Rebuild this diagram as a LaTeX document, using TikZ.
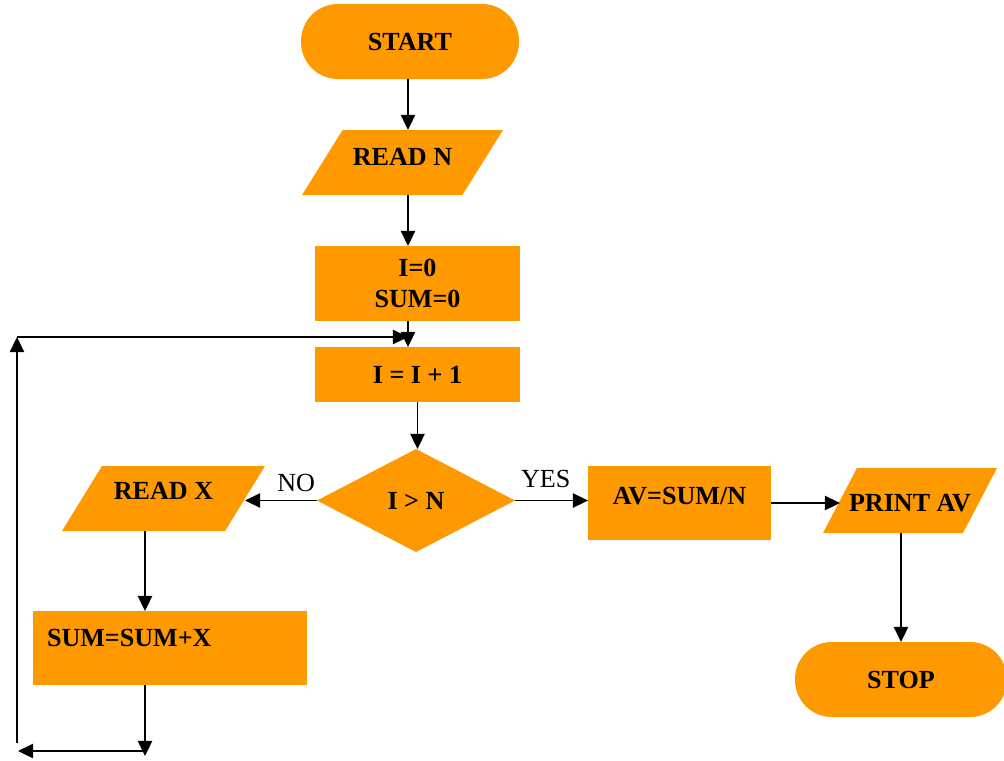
\documentclass[tikz,border=0pt,12pt]{standalone}
\usepackage{fontspec}
\setmainfont{Liberation Serif}
\usepackage{tikz}
\usetikzlibrary{arrows.meta,shapes.geometric}
\definecolor{flowfill}{HTML}{FF9900}
\newcommand{\flowpx}{0.46pt}

\begin{document}
\begin{tikzpicture}[x=0.46pt, y=-0.46pt, line join=round,
    every node/.style={inner sep=0pt, outer sep=0pt, font=\bfseries},
    proc/.style={rectangle, fill=flowfill},
    term/.style={rectangle, rounded corners=17pt, fill=flowfill},
    io/.style={trapezium, trapezium left angle=#1, trapezium right angle=180-#1,
               trapezium stretches body, fill=flowfill},
    test/.style={diamond, aspect=2, fill=flowfill},
    flow/.style={-{Triangle[length=7pt,width=6.6pt]}, line width=0.8pt},
    tag/.style={font=\normalfont}]
  \useasboundingbox (0,0) rectangle (1004,760);
  \node[term, minimum width=218*\flowpx, minimum height=75*\flowpx] (start) at (410,41.5) {START};
  \node[io=58, minimum width=201*\flowpx, text height=16.45pt, text depth=13.45pt] (readn) at (402.5,162.5) {READ N};
  \node[proc, minimum width=205*\flowpx, minimum height=75*\flowpx, align=center] (init) at (417.5,283.5) {I=0\\SUM=0};
  \node[proc, minimum width=205*\flowpx, minimum height=55*\flowpx] (incr) at (417.5,374.5) {I = I + 1};
  \node[test, minimum width=198*\flowpx, minimum height=103*\flowpx] (cond) at (416,500.5) {I > N};
  \node[io=58.4, minimum width=203*\flowpx, text height=15.5pt, text depth=14.4pt] (readx) at (163.5,498.5) {READ X};
  \node[proc, minimum width=274*\flowpx, minimum height=74*\flowpx, text width=246*\flowpx,
        align=left, text depth=9pt] (sumx) at (170,648) {SUM=SUM+X};
  \node[proc, minimum width=183*\flowpx, minimum height=74*\flowpx, text depth=7pt] (avg) at (679.5,503) {AV=SUM/N};
  \node[io=62.4, minimum width=174*\flowpx, text height=20.1pt, text depth=9.8pt] (print) at (910,500.5) {\makebox[0pt]{PRINT AV}};
  \node[term, minimum width=212*\flowpx, minimum height=75*\flowpx] (stop) at (901,679.5) {STOP};

  \coordinate (spine) at (408,0);
  \coordinate (looptop) at (17,337);
  \coordinate (loopbot) at (17,743);
  \coordinate (drop) at (145,756);
  \coordinate (back) at (18,751);

  \foreach \a/\b in {start/readn, readn/init, init/incr}
    \draw[flow] (spine |- \a.south) -- (spine |- \b.north);
  \draw[flow] (incr.south) -- (incr.south |- cond.north);
  \draw[flow] (cond.west) -- (cond.west -| readx.east)
    node[tag, pos=0.29, above=4pt] (no) {NO};
  \draw[flow] (cond.east) -- (cond.east -| avg.west)
    node[tag, pos=0.42, above=6pt] (yes) {YES};
  \draw[flow] (drop |- readx.south) -- (drop |- sumx.north);
  \draw[flow] (drop |- sumx.south) -- (drop);
  \draw[flow] (back -| drop) -- (back);
  \draw[flow] (loopbot) -- (looptop);
  \draw[flow] (looptop) -- (looptop -| spine);
  \draw[flow] (avg.east) -- (avg.east -| print.west);
  \draw[flow] (stop.north |- print.south) -- (stop.north);
\end{tikzpicture}
\end{document}
